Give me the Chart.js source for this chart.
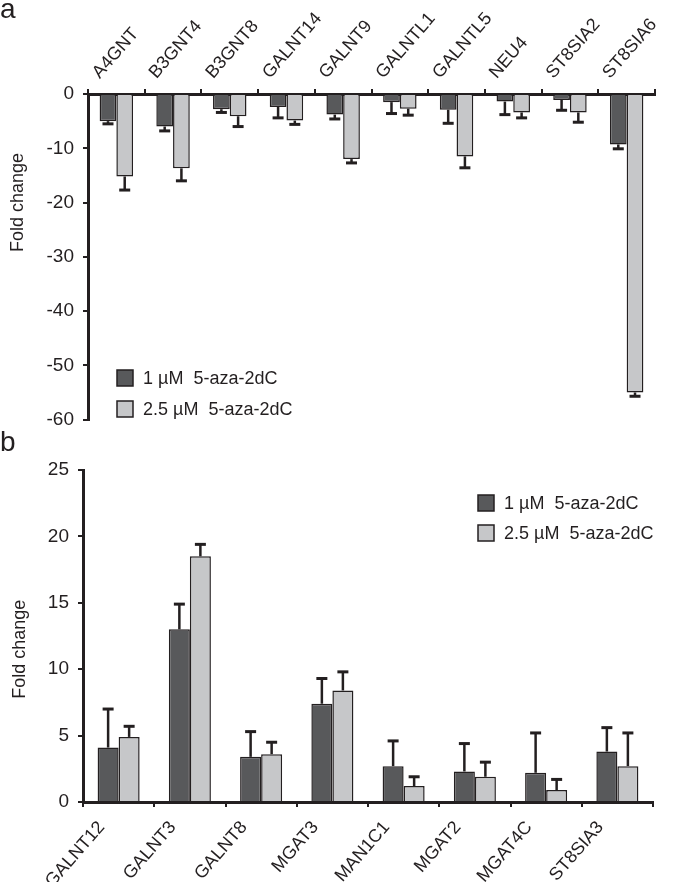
<!DOCTYPE html>
<html>
<head>
<meta charset="utf-8">
<script src="https://cdn.jsdelivr.net/npm/chart.js@4"></script>
<style>
  body { margin:0; background:#fff; width:685px; height:882px; position:relative; overflow:hidden; font-family:"Liberation Sans", Arial, sans-serif; }
  .panel { position:absolute; left:0; width:685px; }
  .letter { position:absolute; left:0; font-size:28px; line-height:1; color:#231f20; }
</style>
</head>
<body>
<div class="panel" style="top:0;height:440px"><canvas id="chartA"></canvas></div>
<div class="panel" style="top:440px;height:442px"><canvas id="chartB"></canvas></div>
<div class="letter" style="top:-5px">a</div>
<div class="letter" style="top:428px">b</div>
<script>
// panel a: downregulated genes
var genesA = ['A4GNT','B3GNT4','B3GNT8','GALNT14','GALNT9','GALNTL1','GALNTL5','NEU4','ST8SIA2','ST8SIA6'];
var lowA = [-5.0, -6.0, -2.8, -2.4, -3.8, -1.5, -2.9, -1.4, -1.1, -9.3];
var lowErrA = [0.5, 0.8, 0.6, 2.0, 0.8, 2.1, 2.5, 2.4, 1.9, 0.8];
var highA = [-15.2, -13.7, -4.1, -4.9, -12.0, -2.7, -11.5, -3.4, -3.4, -55.0];
var highErrA = [2.5, 2.3, 1.9, 0.7, 0.7, 1.2, 2.1, 1.0, 1.8, 0.7];

// panel b: upregulated genes
var genesB = ['GALNT12','GALNT3','GALNT8','MGAT3','MAN1C1','MGAT2','MGAT4C','ST8SIA3'];
var lowB = [4.1, 13.0, 3.4, 7.4, 2.7, 2.3, 2.2, 3.8];
var lowErrB = [2.9, 1.9, 1.9, 1.9, 1.9, 2.1, 3.0, 1.8];
var highB = [4.9, 18.5, 3.6, 8.4, 1.2, 1.9, 0.9, 2.7];
var highErrB = [0.8, 0.9, 0.9, 1.4, 0.7, 1.1, 0.8, 2.5];

var seriesNames = ['1 \u00b5M  5-aza-2dC', '2.5 \u00b5M  5-aza-2dC'];
var yTitleText = 'Fold change';

var ink = '#231f20';
var darkFill = '#58595b';
var lightFill = '#c6c7c9';
var fontFam = '"Liberation Sans", Arial, sans-serif';

Chart.defaults.font.family = fontFam;

var errorBars = {
  id: 'errorBars',
  afterDatasetsDraw: function(chart) {
    var ctx = chart.ctx;
    var yScale = chart.scales.y;
    ctx.save();
    ctx.strokeStyle = ink;
    chart.data.datasets.forEach(function(ds, i) {
      var meta = chart.getDatasetMeta(i);
      meta.data.forEach(function(bar, j) {
        var v = ds.data[j];
        var e = ds.err[j];
        var sign = v < 0 ? -1 : 1;
        var y1 = yScale.getPixelForValue(v);
        var y2 = yScale.getPixelForValue(v + sign * e);
        ctx.lineWidth = 2.5;
        ctx.beginPath();
        ctx.moveTo(bar.x, y1);
        ctx.lineTo(bar.x, y2);
        ctx.stroke();
        ctx.lineWidth = 3;
        ctx.beginPath();
        ctx.moveTo(bar.x - 5.5, y2);
        ctx.lineTo(bar.x + 5.5, y2);
        ctx.stroke();
      });
    });
    ctx.restore();
  }
};

var boxLegend = {
  id: 'boxLegend',
  afterDraw: function(chart, args, opts) {
    var ctx = chart.ctx;
    ctx.save();
    ctx.font = '18px ' + fontFam;
    ctx.textBaseline = 'middle';
    ctx.textAlign = 'left';
    chart.data.datasets.forEach(function(ds, i) {
      var y = opts.y + i * opts.gap;
      ctx.fillStyle = ds.backgroundColor;
      ctx.fillRect(opts.x, y - 8, 16, 16);
      ctx.strokeStyle = ink;
      ctx.lineWidth = 1.5;
      ctx.strokeRect(opts.x, y - 8, 16, 16);
      ctx.fillStyle = ink;
      ctx.fillText(ds.label, opts.x + 26, y + 1);
    });
    ctx.restore();
  }
};

var yTitle = {
  id: 'yTitle',
  afterDraw: function(chart, args, opts) {
    var ctx = chart.ctx;
    var y = chart.scales.y.getPixelForValue(opts.at);
    ctx.save();
    ctx.translate(opts.x, y);
    ctx.rotate(-Math.PI / 2);
    ctx.font = '18px ' + fontFam;
    ctx.fillStyle = ink;
    ctx.textAlign = 'center';
    ctx.textBaseline = 'middle';
    ctx.fillText(yTitleText, 0, 0);
    ctx.restore();
  }
};

function makeChart(id, labels, low, lowErr, high, highErr, cfg) {
  return new Chart(document.getElementById(id), {
    type: 'bar',
    data: {
      labels: labels,
      datasets: [
        { label: seriesNames[0], data: low, err: lowErr, backgroundColor: darkFill, borderColor: ink, borderWidth: 1.5, categoryPercentage: 0.59, barPercentage: 1 },
        { label: seriesNames[1], data: high, err: highErr, backgroundColor: lightFill, borderColor: ink, borderWidth: 1.5, categoryPercentage: 0.59, barPercentage: 1 }
      ]
    },
    options: {
      responsive: true,
      maintainAspectRatio: false,
      animation: false,
      layout: { padding: cfg.padding },
      plugins: {
        legend: { display: false },
        tooltip: { enabled: false },
        boxLegend: cfg.legend,
        yTitle: cfg.yTitle
      },
      scales: {
        x: {
          position: cfg.xPos,
          grid: { offset: true, drawOnChartArea: false, tickLength: 5, color: ink, lineWidth: 2 },
          border: { color: ink, width: 3 },
          ticks: { font: { size: 18 }, color: ink, minRotation: cfg.rot, maxRotation: cfg.rot, labelOffset: cfg.labelOffset, padding: cfg.labelPad, autoSkip: false },
          afterFit: function(s) { s.height = cfg.xHeight; }
        },
        y: {
          min: cfg.yMin,
          max: cfg.yMax,
          ticks: { stepSize: cfg.step, font: { size: 19 }, color: ink, padding: 9 },
          grid: { drawOnChartArea: false, tickLength: 5, color: ink, lineWidth: 2 },
          border: { color: ink, width: 3 },
          afterFit: function(s) { s.width = cfg.yWidth; }
        }
      }
    },
    plugins: [errorBars, boxLegend, yTitle]
  });
}

makeChart('chartA', genesA, lowA, lowErrA, highA, highErrA, {
  padding: { left: 0, right: 30, top: 0, bottom: 20 },
  xPos: 'top', xHeight: 94, yWidth: 88,
  yMin: -60, yMax: 0, step: 10,
  rot: 49, labelOffset: -4, labelPad: 6,
  legend: { x: 117, y: 378, gap: 31 },
  yTitle: { x: 18, at: -20 }
});

makeChart('chartB', genesB, lowB, lowErrB, highB, highErrB, {
  padding: { left: 0, right: 32, top: 30, bottom: 0 },
  xPos: 'bottom', xHeight: 80, yWidth: 83,
  yMin: 0, yMax: 25, step: 5,
  rot: 49, labelOffset: -17, labelPad: 10,
  legend: { x: 478, y: 63, gap: 30 },
  yTitle: { x: 20, at: 11.5 }
});
</script>
</body>
</html>
